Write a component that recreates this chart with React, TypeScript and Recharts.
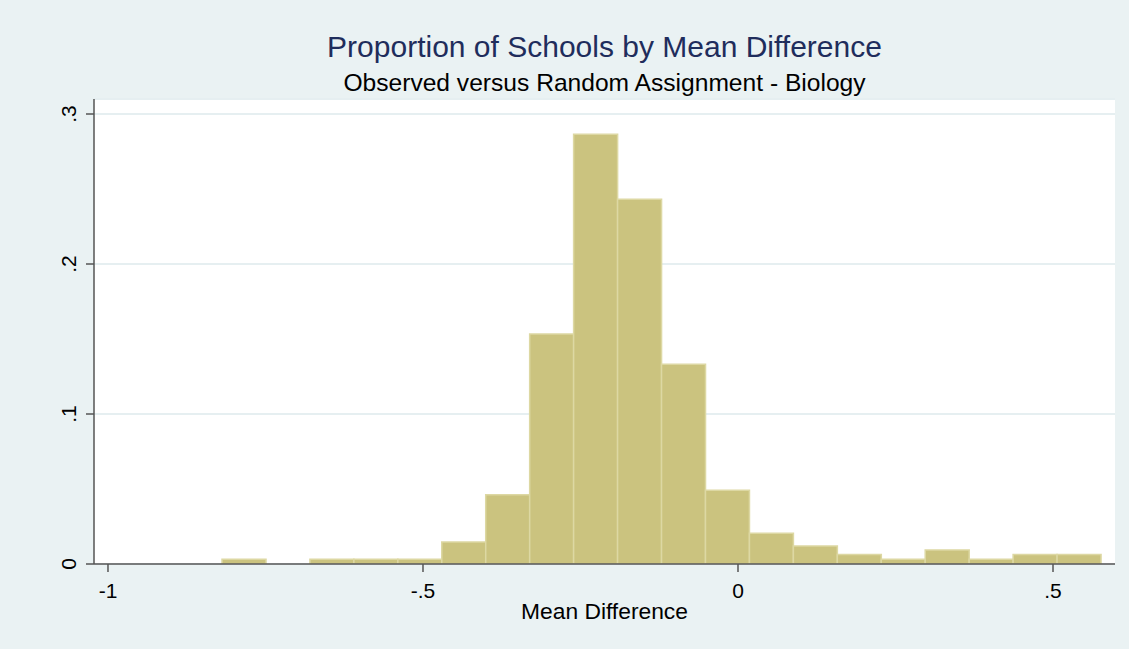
import React from 'react';
import { BarChart, Bar, XAxis, YAxis, CartesianGrid } from 'recharts';

// histogram bins: 20 equal bins starting at binStart
const binStart = -0.819;
const binWidth = 0.06976;
const proportions = [
  0.0031, 0, 0.0031, 0.0031, 0.0031, 0.0147, 0.0462, 0.1533, 0.2865, 0.2431,
  0.1331, 0.0491, 0.0205, 0.012, 0.0064, 0.0031, 0.0093, 0.0031, 0.0064, 0.0064,
];
const xTicks = [-1, -0.5, 0, 0.5];
const yTicks = [0, 0.1, 0.2, 0.3];
const xDomain: [number, number] = [-1.0222, 0.5984];
const yDomain: [number, number] = [0, 0.31];

const bins = proportions.map((share, i) => ({
  mid: binStart + (i + 0.5) * binWidth,
  share,
}));

// Stata style labels: ".5" instead of "0.5"
const stataNum = (v: number) => {
  if (v === 0) return '0';
  const s = String(Math.round(v * 100) / 100);
  return s.replace(/^(-?)0\./, '$1.');
};

const YTick = (props: any) => {
  const { x, y, payload } = props;
  return (
    <text
      x={x}
      y={y}
      transform={`rotate(-90, ${x}, ${y})`}
      textAnchor="middle"
      fontSize={21}
      fill="#000"
    >
      {stataNum(payload.value)}
    </text>
  );
};

const W = 1129;
const H = 649;

export default function App() {
  return (
    <div
      style={{
        position: 'absolute',
        left: 0,
        top: 0,
        width: W,
        height: H,
        background: '#EAF2F3',
        fontFamily: '"Liberation Sans", Arial, sans-serif',
      }}
    >
      <div
        style={{
          position: 'absolute',
          left: 94,
          width: 1021,
          top: 31.5,
          textAlign: 'center',
          fontSize: 30,
          lineHeight: '30px',
          color: '#1F2D5C',
          whiteSpace: 'nowrap',
        }}
      >
        Proportion of Schools by Mean Difference
      </div>
      <div
        style={{
          position: 'absolute',
          left: 94,
          width: 1021,
          top: 71,
          textAlign: 'center',
          fontSize: 24.6,
          lineHeight: '24.6px',
          color: '#000',
          whiteSpace: 'nowrap',
        }}
      >
        Observed versus Random Assignment - Biology
      </div>
      <BarChart
        width={W}
        height={H}
        data={bins}
        margin={{ top: 99, right: 14, bottom: 0, left: 0 }}
        barCategoryGap={0}
        barGap={0}
      >
        <CartesianGrid vertical={false} stroke="#E6EFF1" strokeWidth={2} fill="#fff" />
        <XAxis
          dataKey="mid"
          type="number"
          domain={xDomain}
          allowDataOverflow
          ticks={xTicks}
          tickFormatter={stataNum}
          height={85}
          stroke="#555"
          strokeWidth={1.5}
          tickSize={8}
          tickMargin={11}
          tick={{ fill: '#000', fontSize: 21 }}
          label={{ value: 'Mean Difference', position: 'insideBottom', offset: 30, fill: '#000', fontSize: 22.8 }}
        />
        <YAxis
          type="number"
          domain={yDomain}
          allowDataOverflow
          ticks={yTicks}
          width={94}
          stroke="#555"
          strokeWidth={1.5}
          tickSize={8}
          tickMargin={10}
          tick={YTick}
        />
        <Bar
          dataKey="share"
          fill="#CBC37F"
          stroke="#DDD8A3"
          strokeWidth={1.5}
          isAnimationActive={false}
        />
      </BarChart>
    </div>
  );
}
